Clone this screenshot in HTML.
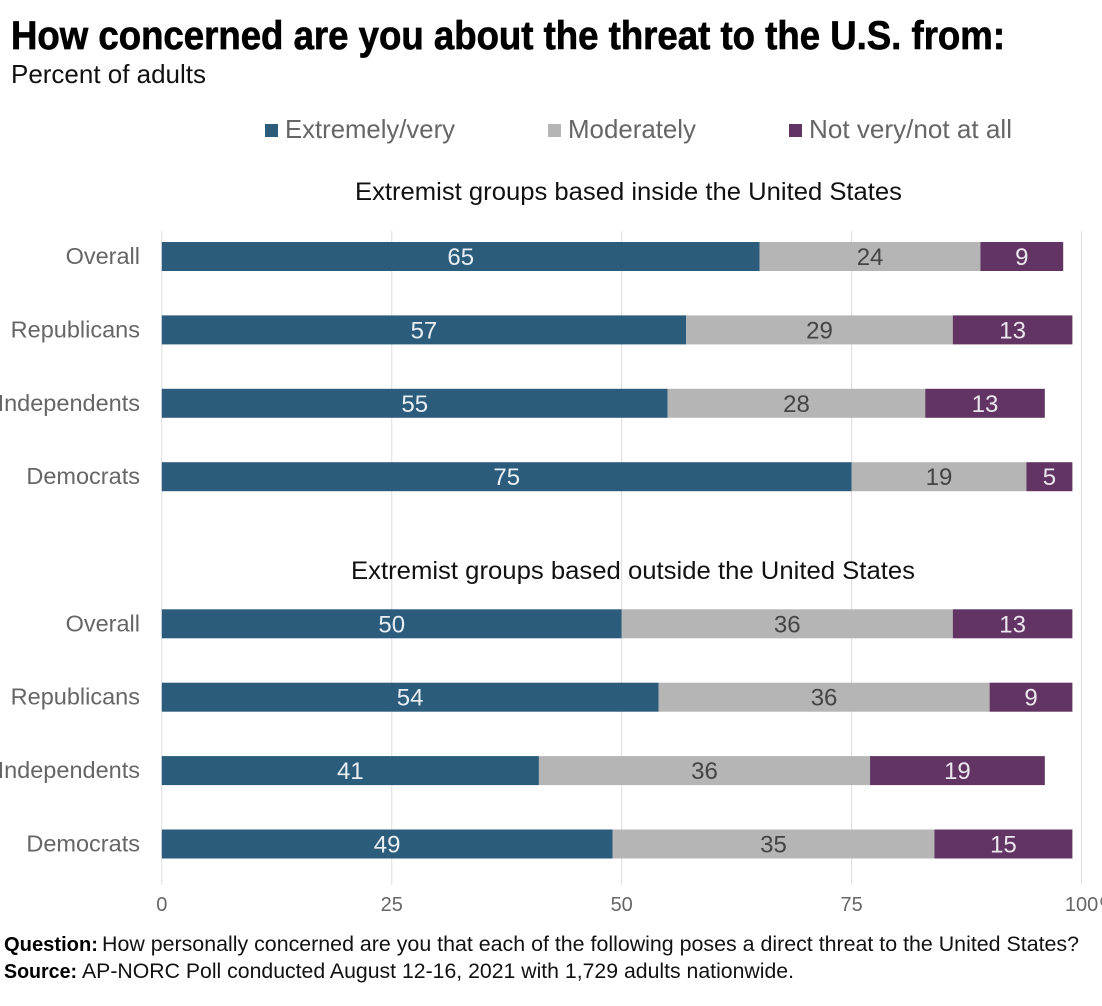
<!DOCTYPE html>
<html lang="en">
<head>
<meta charset="utf-8">
<title>How concerned are you about the threat to the U.S.</title>
<style>
html,body{margin:0;padding:0;background:#fff;width:1102px;height:1006px;overflow:hidden}
svg{display:block;font-family:"Liberation Sans",Arial,sans-serif}
</style>
</head>
<body>
<svg id="chart" xmlns="http://www.w3.org/2000/svg" width="1102" height="1006" viewBox="0 0 1102 1006">
  <rect x="0" y="0" width="1102" height="1006" fill="#ffffff"/>
  <g id="grid"></g>
  <text x="11" y="49" font-size="40" font-weight="700" fill="#000" stroke="#000" stroke-width="0.7" textLength="994" lengthAdjust="spacingAndGlyphs">How concerned are you about the threat to the U.S. from:</text>
  <text x="11" y="83" font-size="26" fill="#111" textLength="195" lengthAdjust="spacingAndGlyphs">Percent of adults</text>

  <g>
    <g>
      <rect x="265" y="124" width="13" height="13" fill="#2c5c7c"/>
      <text x="285" y="138" font-size="26" fill="#666" textLength="170" lengthAdjust="spacingAndGlyphs">Extremely/very</text>
    </g>
    <g>
      <rect x="548" y="124" width="13" height="13" fill="#b5b5b5"/>
      <text x="568" y="138" font-size="26" fill="#666" textLength="128" lengthAdjust="spacingAndGlyphs">Moderately</text>
    </g>
    <g>
      <rect x="789" y="124" width="13" height="13" fill="#613463"/>
      <text x="809" y="138" font-size="26" fill="#666" textLength="203" lengthAdjust="spacingAndGlyphs">Not very/not at all</text>
    </g>
  </g>

  <text x="355" y="200" font-size="25" fill="#111" textLength="547" lengthAdjust="spacingAndGlyphs">Extremist groups based inside the United States</text>
  <text x="351" y="579" font-size="25" fill="#111" textLength="564" lengthAdjust="spacingAndGlyphs">Extremist groups based outside the United States</text>

  <g id="bars"></g>
  <g id="categories"></g>
  <g id="ticks"></g>

  <g>
    <text x="4" y="951" font-size="20.5" font-weight="700" fill="#000" textLength="94" lengthAdjust="spacingAndGlyphs">Question:</text>
    <text x="102" y="951" font-size="21" fill="#111" textLength="977" lengthAdjust="spacingAndGlyphs">How personally concerned are you that each of the following poses a direct threat to the United States?</text>
    <text x="4" y="978" font-size="20.5" font-weight="700" fill="#000" textLength="73" lengthAdjust="spacingAndGlyphs">Source:</text>
    <text x="82" y="978" font-size="21" fill="#111" textLength="712" lengthAdjust="spacingAndGlyphs">AP-NORC Poll conducted August 12-16, 2021 with 1,729 adults nationwide.</text>
  </g>
</svg>
<script>
const categories = ["Overall", "Republicans", "Independents", "Democrats"];
const insideExtreme = [65, 57, 55, 75];
const insideModerate = [24, 29, 28, 19];
const insideNot = [9, 13, 13, 5];
const outsideExtreme = [50, 54, 41, 49];
const outsideModerate = [36, 36, 36, 35];
const outsideNot = [13, 9, 19, 15];
const tickValues = [0, 25, 50, 75, 100];
const tickLabels = ["0", "25", "50", "75", "100"];
const tickSuffix = "%";

const NS = "http://www.w3.org/2000/svg";
const X0 = 161.8, X100 = 1081.6;
const BAR_H = 29;
const GRID_TOP = 231, GRID_BOTTOM = 885;
const INSIDE_TOP = 242, OUTSIDE_TOP = 609.3, ROW_STEP = 73.4;
const COLORS = ["#2c5c7c", "#b5b5b5", "#613463"];
const LABEL_COLORS = ["#e9eef2", "#444444", "#ece6ee"];
const SERIES_NAMES = ["extremely-very", "moderately", "not-very"];

function xScale(v) { return X0 + (X100 - X0) * v / 100; }
function make(tag, attrs) {
  const el = document.createElementNS(NS, tag);
  for (const k in attrs) el.setAttribute(k, attrs[k]);
  return el;
}

const gridG = document.getElementById("grid");
tickValues.forEach(function (t) {
  const line = make("line", { x1: xScale(t), x2: xScale(t), y1: GRID_TOP, y2: GRID_BOTTOM, stroke: "#dddddd", "stroke-width": 1 });
  
  
  gridG.appendChild(line);
});

const ticksG = document.getElementById("ticks");
tickValues.forEach(function (t, i) {
  const label = make("text", { x: xScale(t), y: 911, "font-size": 20, fill: "#666666", "text-anchor": "middle" });
  
  
  label.textContent = tickLabels[i];
  ticksG.appendChild(label);
});
const lastTickSuffix = make("text", { x: xScale(tickValues[tickValues.length - 1]) + 18, y: 911, "font-size": 20, fill: "#666666" });


lastTickSuffix.textContent = tickSuffix;
ticksG.appendChild(lastTickSuffix);

const barsG = document.getElementById("bars");
const catsG = document.getElementById("categories");

function drawPanel(top, seriesList) {
  categories.forEach(function (cat, row) {
    const y = top + row * ROW_STEP;
    const catLabel = make("text", { x: 140, y: y + 22, "font-size": 23.5, fill: "#666666", "text-anchor": "end" });
    
    
    catLabel.textContent = cat;
    catsG.appendChild(catLabel);

    let cum = 0;
    seriesList.forEach(function (values, s) {
      const v = values[row];
      const seg = make("rect", { x: xScale(cum), y: y, width: xScale(cum + v) - xScale(cum), height: BAR_H, fill: COLORS[s] });
      
      
      seg.setAttribute('aria-label', cat + " " + SERIES_NAMES[s] + " " + v);
      barsG.appendChild(seg);

      const val = make("text", { x: xScale(cum + v / 2), y: y + 23, "font-size": 24, fill: LABEL_COLORS[s], "text-anchor": "middle" });
      
      
      val.textContent = String(v);
      barsG.appendChild(val);
      cum += v;
    });
  });
}

drawPanel(INSIDE_TOP, [insideExtreme, insideModerate, insideNot]);
drawPanel(OUTSIDE_TOP, [outsideExtreme, outsideModerate, outsideNot]);
</script>
</body>
</html>
